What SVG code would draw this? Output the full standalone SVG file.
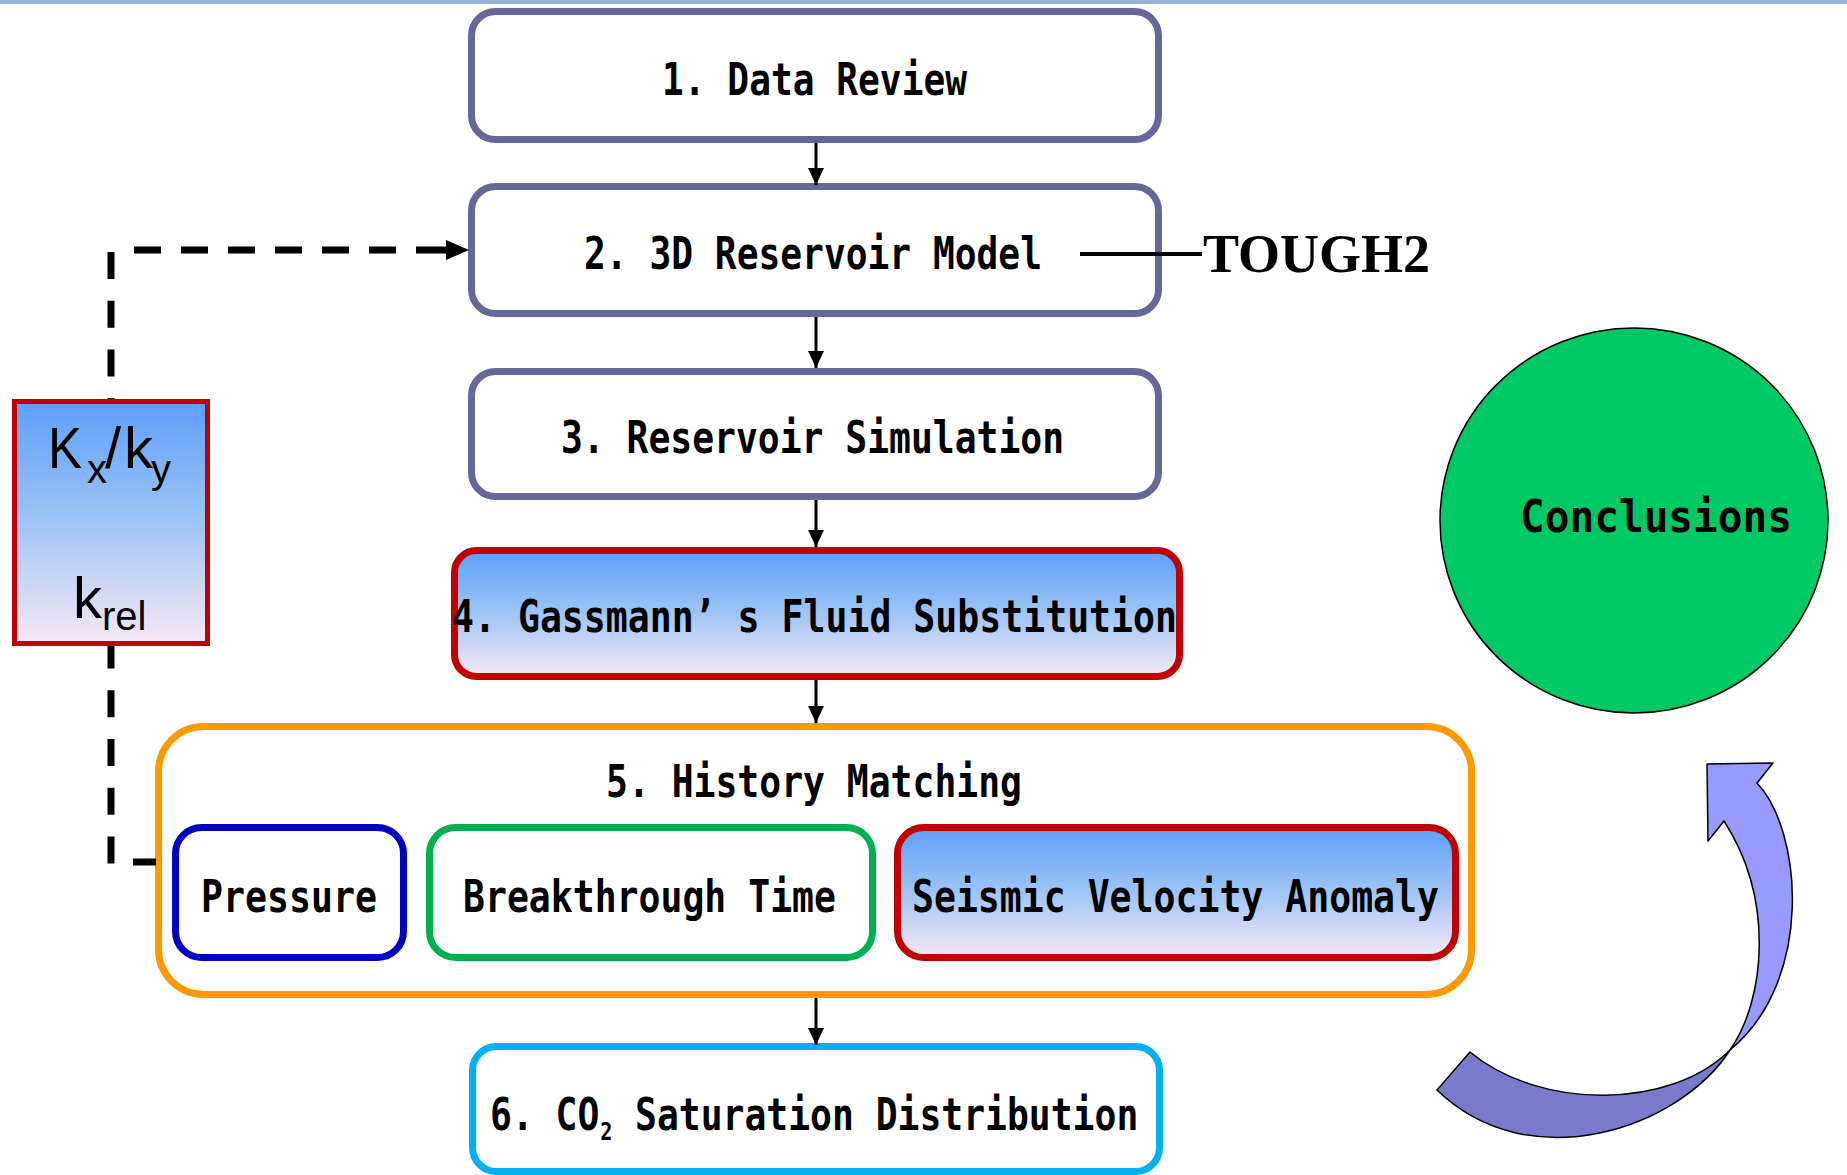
<svg xmlns="http://www.w3.org/2000/svg" width="1847" height="1175" viewBox="0 0 1847 1175">
<defs>
<style>
.step{fill:#ffffff;stroke:#666699;stroke-width:7}
.t{font-family:"DejaVu Sans Mono","Liberation Mono",monospace;font-size:45px;font-weight:bold;fill:#000}
.k{font-family:"Liberation Sans",Arial,sans-serif;fill:#000}
.conn{stroke:#000;stroke-width:3;fill:none}
.dash{stroke:#000;stroke-width:7;fill:none}
</style>
<linearGradient id="bluePink" x1="0" y1="0" x2="0" y2="1">
<stop offset="0" stop-color="#5e9ffa"/>
<stop offset="0.45" stop-color="#97c1f5"/>
<stop offset="1" stop-color="#f7e8f5"/>
</linearGradient>
<marker id="ah" markerUnits="userSpaceOnUse" markerWidth="18" markerHeight="18" viewBox="0 0 18 18" refX="17" refY="9" orient="auto">
<path d="M0,1 L17,9 L0,17 Z" fill="#000"/>
</marker>
</defs>
<rect x="0" y="0" width="1847" height="1175" fill="#ffffff"/>
<rect x="0" y="0" width="1847" height="4" fill="#95b3d7"/>

<g id="node-data-review">
<rect class="step" x="471.5" y="11.5" width="687" height="128" rx="24"/>
<text class="t" x="662" y="95" textLength="305" lengthAdjust="spacingAndGlyphs">1. Data Review</text>
</g>

<g id="node-3d-model">
<rect class="step" x="471.5" y="186.5" width="687" height="127" rx="24"/>
<text class="t" x="584" y="269" textLength="458" lengthAdjust="spacingAndGlyphs">2. 3D Reservoir Model</text>
</g>

<g id="node-tough2">
<text x="1203" y="272" font-family="'Liberation Serif','Times New Roman',serif" font-weight="bold" font-size="54" fill="#000">TOUGH2</text>
</g>

<g id="node-simulation">
<rect class="step" x="471.5" y="371.5" width="687" height="125" rx="24"/>
<text class="t" x="561" y="453" textLength="503" lengthAdjust="spacingAndGlyphs">3. Reservoir Simulation</text>
</g>

<g id="node-gassmann">
<rect x="454.5" y="550.5" width="725" height="126" rx="22" fill="url(#bluePink)" stroke="#c00000" stroke-width="7"/>
<text class="t" x="452" y="632" textLength="725" lengthAdjust="spacingAndGlyphs">4. Gassmann’ s Fluid Substitution</text>
</g>

<g id="node-history">
<rect x="158.5" y="726.5" width="1313" height="268" rx="45" fill="#ffffff" stroke="#ff9900" stroke-width="7"/>
<text class="t" x="606" y="797" textLength="416" lengthAdjust="spacingAndGlyphs">5. History Matching</text>
</g>

<g id="node-pressure">
<rect x="175.5" y="827.5" width="228" height="130" rx="26" fill="#ffffff" stroke="#0000c0" stroke-width="7"/>
<text class="t" x="201" y="912" textLength="176" lengthAdjust="spacingAndGlyphs">Pressure</text>
</g>

<g id="node-breakthrough">
<rect x="429.5" y="827.5" width="443" height="130" rx="26" fill="#ffffff" stroke="#00b050" stroke-width="7"/>
<text class="t" x="463" y="912" textLength="373" lengthAdjust="spacingAndGlyphs">Breakthrough Time</text>
</g>

<g id="node-seismic">
<rect x="897.5" y="827.5" width="558" height="130" rx="26" fill="url(#bluePink)" stroke="#c00000" stroke-width="7"/>
<text class="t" x="912" y="912" textLength="527" lengthAdjust="spacingAndGlyphs">Seismic Velocity Anomaly</text>
</g>

<g id="node-co2">
<rect x="472.5" y="1046.5" width="687" height="125" rx="24" fill="#ffffff" stroke="#00b0f0" stroke-width="7"/>
<g transform="scale(0.808 1)">
<text class="t" x="606.4" y="1130">6. CO<tspan x="743" y="1140" font-size="25">2</tspan><tspan x="785.9" y="1130">Saturation Distribution</tspan></text>
</g>
</g>

<g id="node-kxky">
<rect x="14.5" y="401.5" width="193" height="242" fill="url(#bluePink)" stroke="#c00000" stroke-width="5"/>
<text class="k" x="48" y="468" font-size="58" textLength="34" lengthAdjust="spacingAndGlyphs">K</text>
<text class="k" x="87" y="483" font-size="40">x</text>
<text class="k" x="105" y="468" font-size="58">/</text>
<text class="k" x="124" y="468" font-size="58">k</text>
<text class="k" x="151" y="483" font-size="40">y</text>
<text class="k" x="73" y="618" font-size="58">k</text>
<text class="k" x="102" y="630" font-size="40">rel</text>
</g>

<g id="node-conclusions">
<ellipse cx="1634" cy="520.5" rx="194" ry="192.5" fill="#00c864" stroke="#000" stroke-width="1.5"/>
<text class="t" x="1520" y="532" font-size="47" textLength="272" lengthAdjust="spacingAndGlyphs">Conclusions</text>
</g>

<g id="curved-arrow" stroke="#000" stroke-width="1.5" stroke-linejoin="round">
<path d="M1730,1050 C1680,1128 1530,1180 1437,1090 L1470,1052 C1540,1110 1670,1110 1730,1050 Z" fill="#7a7acc"/>
<path d="M1730,1050 C1765,1000 1775,900 1724,821 L1708,841 L1707,764 L1773,763 L1757,783 C1802,830 1815,980 1730,1050 Z" fill="#9999ff"/>
</g>

<g id="connectors">
<line class="conn" x1="816" y1="143" x2="816" y2="185" marker-end="url(#ah)"/>
<line class="conn" x1="816" y1="317" x2="816" y2="368" marker-end="url(#ah)"/>
<line class="conn" x1="816" y1="500" x2="816" y2="547" marker-end="url(#ah)"/>
<line class="conn" x1="816" y1="680" x2="816" y2="723" marker-end="url(#ah)"/>
<line class="conn" x1="816" y1="998" x2="816" y2="1045" marker-end="url(#ah)"/>
<path class="dash" d="M111,252 V399" stroke-dasharray="27 21.7"/>
<path class="dash" d="M111,646 V865" stroke-dasharray="27 21.7" stroke-dashoffset="4.4"/>
<path class="dash" d="M134,250 H443" stroke-dasharray="27 20"/>
<path d="M443,246.5 H446 V240 L469,250 L446,260 V253.5 H443 Z" fill="#000"/>
<path class="dash" d="M133,862 H156"/>
<line x1="1080" y1="254" x2="1202" y2="254" stroke="#000" stroke-width="4"/>
</g>
</svg>
